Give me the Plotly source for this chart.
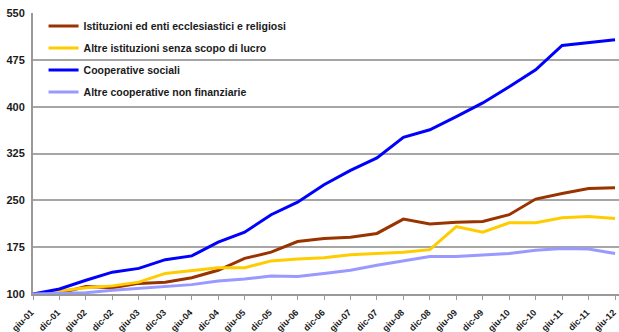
import plotly.graph_objects as go

# Semiannual periods (June / December), 2001-2012
periods = ["giu-01", "dic-01", "giu-02", "dic-02", "giu-03", "dic-03", "giu-04", "dic-04",
           "giu-05", "dic-05", "giu-06", "dic-06", "giu-07", "dic-07", "giu-08", "dic-08",
           "giu-09", "dic-09", "giu-10", "dic-10", "giu-11", "dic-11", "giu-12"]

# Index numbers, giu-01 = 100
istituzioni_religiose = [100, 101, 112, 110, 117, 119, 126, 138, 157, 167, 184, 189,
                         191, 197, 220, 212, 215, 216, 227, 252, 261, 269, 270]
altre_istituzioni = [100, 105, 110, 113, 119, 133, 137, 142, 142, 153, 156, 158,
                     163, 165, 167, 171, 208, 199, 214, 214, 222, 224, 221]
cooperative_sociali = [100, 108, 122, 135, 141, 155, 161, 183, 199, 227, 247, 275,
                       298, 318, 351, 363, 384, 406, 432, 459, 498, 503, 507]
altre_cooperative = [100, 101, 102, 106, 109, 112, 115, 121, 124, 129, 128, 133,
                     138, 146, 153, 160, 160, 163, 165, 170, 173, 172, 165]

y_ticks = [100, 175, 250, 325, 400, 475, 550]

series = [
    ("Istituzioni ed enti ecclesiastici e religiosi", istituzioni_religiose, "#993300"),
    ("Altre istituzioni senza scopo di lucro", altre_istituzioni, "#FFCC00"),
    ("Cooperative sociali", cooperative_sociali, "#0000FF"),
    ("Altre cooperative non finanziarie", altre_cooperative, "#9999FF"),
]

x_idx = list(range(len(periods)))
# a trailing non-breaking space nudges the slanted labels left of their ticks
tick_text = [p + "\u00a0" for p in periods]

fig = go.Figure()
for i, (name, vals, color) in enumerate(series):
    fig.add_trace(go.Scatter(
        x=x_idx, y=vals, mode="lines", name=name,
        line=dict(color=color, width=3),
        legendgroup=f"g{i}",
    ))

font_main = "Liberation Sans, Arial, sans-serif"

fig.update_layout(
    width=619, height=332,
    margin=dict(l=33, r=0, t=13, b=38),
    paper_bgcolor="white", plot_bgcolor="white",
    font=dict(family=font_main, color="#1a1a1a"),
    showlegend=True,
    legend=dict(
        x=0.018, y=1.005, xanchor="left", yanchor="top",
        bgcolor="rgba(255,255,255,0)",
        font=dict(size=10.5, family=font_main, color="#1a1a1a", weight="bold"),
        traceorder="grouped", tracegroupgap=3,
        itemwidth=30,
    ),
    xaxis=dict(
        range=[0, len(periods) - 0.85],
        tickmode="array", tickvals=x_idx, ticktext=tick_text,
        tickangle=-45,
        tickfont=dict(size=9, family=font_main, color="#1a1a1a", weight="bold"),
        ticks="outside", ticklen=4, tickcolor="#999999", tickwidth=1,
        ticklabeloverflow="allow", ticklabelstandoff=2,
        showgrid=False, zeroline=False,
        showline=True, linecolor="#999999", linewidth=2,
        automargin=False,
    ),
    yaxis=dict(
        range=[100, 550],
        tickmode="array", tickvals=y_ticks,
        tickfont=dict(size=11, family=font_main, color="#1a1a1a", weight="bold"),
        showgrid=True, gridcolor="#a6a6a6", gridwidth=1.5,
        zeroline=False,
        showline=True, linecolor="#999999", linewidth=2,
        ticks="", ticklabelstandoff=4,
        automargin=False,
    ),
)

fig.write_html("out.html")
